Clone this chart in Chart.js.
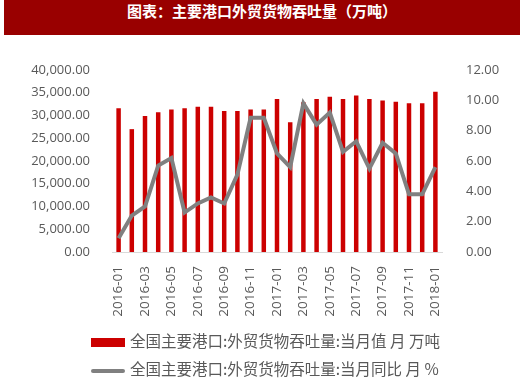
<!DOCTYPE html>
<html>
<head>
<meta charset="utf-8">
<script src="https://cdn.jsdelivr.net/npm/chart.js@4.4.0/dist/chart.umd.min.js"></script>
<style>
  html, body { margin: 0; padding: 0; background: #fff; }
  #wrap { position: relative; width: 520px; height: 380px; overflow: hidden; }
  #title {
    position: absolute; left: 4px; top: 0; width: 516px; height: 35px;
    background: #990000; color: #fff; text-align: center; line-height: 38px;
    font: bold 15px "Noto Sans CJK SC", sans-serif;
  }
  #chart { position: absolute; left: 0; top: 0; }
  .leg { position: absolute; left: 91px; font: 15.5px "Noto Sans CJK SC", sans-serif; color: #595959; white-space: nowrap; }
  .leg span { display: inline-block; vertical-align: middle; margin-right: 5px; }
</style>
</head>
<body>
<div id="wrap">
  <canvas id="chart" width="520" height="380"></canvas>
  <div id="title">图表：主要港口外贸货物吞吐量（万吨）</div>
  <div class="leg" style="top:329px"><span style="width:34px;height:9px;background:#cc0000"></span>全国主要港口:外贸货物吞吐量:当月值 月 万吨</div>
  <div class="leg" style="top:357px"><span style="width:34px;height:4px;background:#808080;border-radius:2px"></span>全国主要港口:外贸货物吞吐量:当月同比 月 %</div>
</div>
<script>
  const months = [
    '2016-01', '2016-02', '2016-03', '2016-04', '2016-05', '2016-06', '2016-07', '2016-08',
    '2016-09', '2016-10', '2016-11', '2016-12', '2017-01', '2017-02', '2017-03', '2017-04',
    '2017-05', '2017-06', '2017-07', '2017-08', '2017-09', '2017-10', '2017-11', '2017-12', '2018-01'
  ];
  // 当月值 (万吨)
  const monthly = [
    31600, 27000, 29900, 30700, 31300, 31600, 31900, 31900, 31000, 31000, 31300, 31300,
    33600, 28500, 32900, 33600, 34100, 33600, 34400, 33600, 33300, 33000, 32700, 32700, 35200
  ];
  // 当月同比 (%)
  const yoy = [
    0.9, 2.4, 3.0, 5.7, 6.2, 2.6, 3.2, 3.6, 3.2, 5.1, 8.85, 8.85,
    6.5, 5.6, 9.8, 8.4, 9.2, 6.6, 7.3, 5.5, 7.2, 6.5, 3.8, 3.8, 5.6
  ];

  const tickFont = { family: '"Open Sans", sans-serif', size: 13 };
  const tickCol = '#595959';

  new Chart(document.getElementById('chart'), {
    data: {
      labels: months,
      datasets: [
        {
          type: 'line',
          label: '当月同比',
          data: yoy,
          yAxisID: 'y1',
          borderColor: '#808080',
          borderWidth: 4,
          pointRadius: 0,
          tension: 0,
          order: 0
        },
        {
          type: 'bar',
          label: '当月值',
          data: monthly,
          yAxisID: 'y',
          backgroundColor: '#cc0000',
          barPercentage: 0.34,
          categoryPercentage: 1,
          order: 1
        }
      ]
    },
    options: {
      responsive: false,
      animation: false,
      layout: { padding: { top: 70, left: 0, right: 0, bottom: 0 } },
      plugins: { legend: { display: false }, tooltip: { enabled: false } },
      scales: {
        x: {
          offset: true,
          grid: { display: false },
          border: { color: '#d9d9d9', width: 1 },
          ticks: {
            color: tickCol, font: { family: '"Open Sans", sans-serif', size: 13.5 }, autoSkip: false,
            maxRotation: 90, minRotation: 90, padding: 6,
            callback: function (v, i) { return i % 2 === 0 ? months[i] : ''; }
          },
          afterFit: function (s) { s.height = 128; }
        },
        y: {
          position: 'left',
          min: 0, max: 40000,
          grid: { display: false },
          border: { display: false },
          ticks: {
            stepSize: 5000, color: tickCol, font: tickFont, padding: 14,
            callback: function (v) {
              return v.toLocaleString('en-US', { minimumFractionDigits: 2, maximumFractionDigits: 2 });
            }
          },
          afterFit: function (s) { s.width = 112; }
        },
        y1: {
          position: 'right',
          min: 0, max: 12,
          grid: { display: false },
          border: { display: false },
          ticks: {
            stepSize: 2, color: tickCol, font: tickFont, padding: 16,
            callback: function (v) { return v.toFixed(2); }
          },
          afterFit: function (s) { s.width = 78; }
        }
      }
    }
  });
</script>
</body>
</html>
